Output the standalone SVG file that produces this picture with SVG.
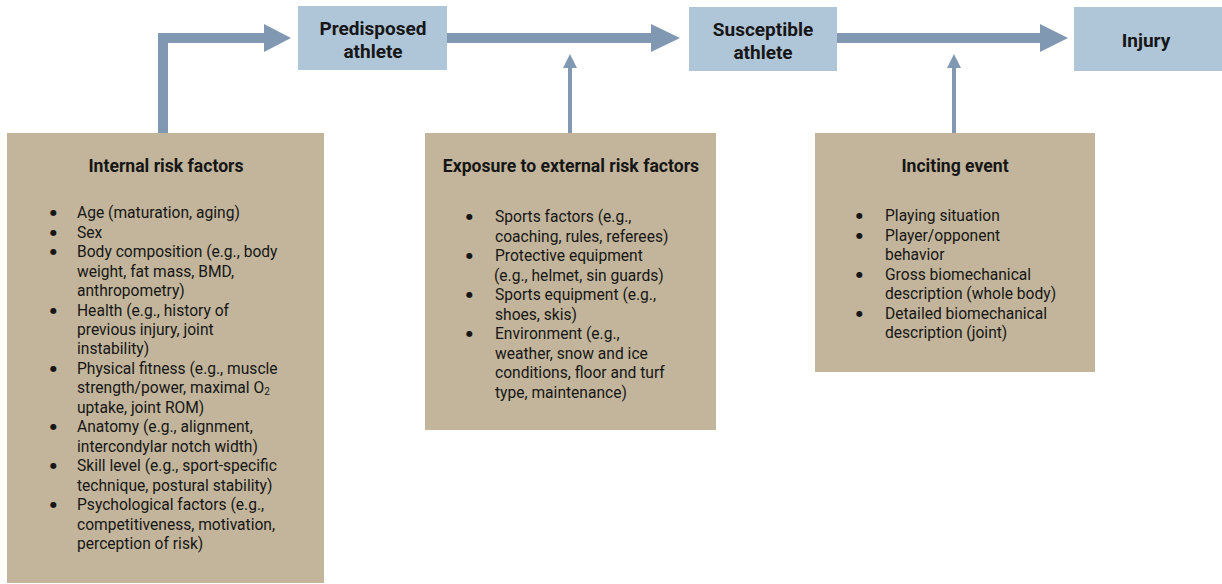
<svg xmlns="http://www.w3.org/2000/svg" width="1222" height="584" viewBox="0 0 1222 584">
<style>
.stage{fill:#afc5d8}
.factor{fill:#c2b59b}
.t{font-family:Roboto,"Liberation Sans",sans-serif;fill:#161616}
.h{font-size:17.6px;font-weight:bold}
.st{font-size:19px;font-weight:bold}
.b{font-size:15.6px}
.bl{font-size:8px;font-family:"DejaVu Sans",sans-serif}
.arr{fill:#8198b3}
</style>
<rect width="1222" height="584" fill="#ffffff"/>
<g id="connectors">
<path class="arr" d="M158 133 V33 H264 V24 L291 38 L264 52 V43 H168 V133 Z"/>
<path class="arr" d="M447 33 H651 V24 L680 38 L651 52 V43 H447 Z"/>
<path class="arr" d="M837 33 H1040 V24 L1068 38 L1040 52 V43 H837 Z"/>
<path class="arr" d="M568 133 V68 H563 L570 54 L577 68 H572 V133 Z"/>
<path class="arr" d="M952 133 V68 H947 L954 54 L961 68 H956 V133 Z"/>
</g>
<g id="predisposed">
<rect class="stage" x="298" y="6" width="149" height="64"/>
<text class="t st" x="373" y="35" text-anchor="middle">Predisposed</text>
<text class="t st" x="373" y="58" text-anchor="middle">athlete</text>
</g>
<g id="susceptible">
<rect class="stage" x="689" y="7" width="148" height="64"/>
<text class="t st" x="763" y="36" text-anchor="middle">Susceptible</text>
<text class="t st" x="763" y="59" text-anchor="middle">athlete</text>
</g>
<g id="injury">
<rect class="stage" x="1074" y="7" width="148" height="64"/>
<text class="t st" x="1146" y="47" text-anchor="middle">Injury</text>
</g>
<g id="internal">
<rect class="factor" x="7" y="133" width="317" height="450"/>
<text class="t h" x="166" y="172" text-anchor="middle">Internal risk factors</text>
<g class="t b">
<text class="bl" x="50" y="215">●</text><text x="77" y="218">Age (maturation, aging)</text>
<text class="bl" x="50" y="235">●</text><text x="77" y="238">Sex</text>
<text class="bl" x="50" y="254">●</text><text x="77" y="257">Body composition (e.g., body</text>
<text x="77" y="277">weight, fat mass, BMD,</text>
<text x="77" y="296">anthropometry)</text>
<text class="bl" x="50" y="313">●</text><text x="77" y="316">Health (e.g., history of</text>
<text x="77" y="335">previous injury, joint</text>
<text x="77" y="354">instability)</text>
<text class="bl" x="50" y="371">●</text><text x="77" y="374">Physical fitness (e.g., muscle</text>
<text x="77" y="393">strength/power, maximal O<tspan font-size="10" dy="2">2</tspan></text>
<text x="77" y="413">uptake, joint ROM)</text>
<text class="bl" x="50" y="429">●</text><text x="77" y="432">Anatomy (e.g., alignment,</text>
<text x="77" y="452">intercondylar notch width)</text>
<text class="bl" x="50" y="468">●</text><text x="77" y="471">Skill level (e.g., sport-specific</text>
<text x="77" y="491">technique, postural stability)</text>
<text class="bl" x="50" y="507">●</text><text x="77" y="510">Psychological factors (e.g.,</text>
<text x="77" y="530">competitiveness, motivation,</text>
<text x="77" y="549">perception of risk)</text>
</g>
</g>
<g id="external">
<rect class="factor" x="425" y="133" width="291" height="297"/>
<text class="t h" x="571" y="172" text-anchor="middle">Exposure to external risk factors</text>
<g class="t b">
<text class="bl" x="466" y="219">●</text><text x="495" y="222">Sports factors (e.g.,</text>
<text x="495" y="242">coaching, rules, referees)</text>
<text class="bl" x="466" y="258">●</text><text x="495" y="261">Protective equipment</text>
<text x="494" y="281">(e.g., helmet, sin guards)</text>
<text class="bl" x="466" y="297">●</text><text x="495" y="300">Sports equipment (e.g.,</text>
<text x="495" y="320">shoes, skis)</text>
<text class="bl" x="466" y="336">●</text><text x="495" y="339">Environment (e.g.,</text>
<text x="495" y="359">weather, snow and ice</text>
<text x="495" y="378">conditions, floor and turf</text>
<text x="495" y="398">type, maintenance)</text>
</g>
</g>
<g id="inciting">
<rect class="factor" x="815" y="133" width="280" height="239"/>
<text class="t h" x="955" y="172" text-anchor="middle">Inciting event</text>
<g class="t b">
<text class="bl" x="856" y="218">●</text><text x="885" y="221">Playing situation</text>
<text class="bl" x="856" y="238">●</text><text x="885" y="241">Player/opponent</text>
<text x="885" y="260">behavior</text>
<text class="bl" x="856" y="277">●</text><text x="885" y="280">Gross biomechanical</text>
<text x="885" y="299">description (whole body)</text>
<text class="bl" x="856" y="316">●</text><text x="885" y="319">Detailed biomechanical</text>
<text x="885" y="338">description (joint)</text>
</g>
</g>
</svg>
